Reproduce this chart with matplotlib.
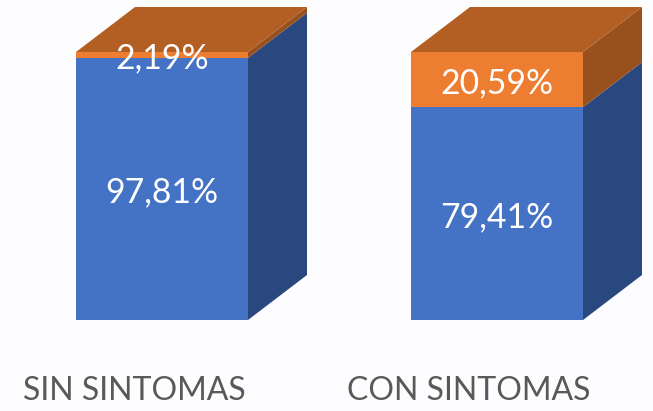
import matplotlib
matplotlib.use("Agg")
import matplotlib.pyplot as plt
from matplotlib.patches import Polygon

categories = ["SIN SINTOMAS", "CON SINTOMAS"]
blue_values = [97.81, 79.41]
orange_values = [2.19, 20.59]
blue_labels = ["97,81%", "79,41%"]
orange_labels = ["2,19%", "20,59%"]

BG = "#FDFDFF"
C = {"blue": ("#4472C4", "#2A4880"), "orange": ("#ED7D31", "#98501D")}
TOP = "#B35E22"
W, H = 653, 411
PX_X = 335.0
PX_Y = 2.68
X0, Y0 = 162.0, 320.0
BAR_W = 172 / PX_X
DX = 59 / PX_X
DY = 45 / PX_Y
TXT_SHIFT = 3.5 / PX_Y

plt.rcParams["font.family"] = ["Lato", "DejaVu Sans"]
fig = plt.figure(figsize=(W / 100, H / 100), dpi=100, facecolor=BG)
ax = fig.add_axes([0, 0, 1, 1])
ax.set_xlim(-X0 / PX_X, (W - X0) / PX_X)
ax.set_ylim((Y0 - H) / PX_Y, Y0 / PX_Y)
ax.axis("off")


def side(x, y0, y1, color):
    r = x + BAR_W / 2
    ax.add_patch(Polygon([(r, y0), (r + DX, y0 + DY), (r + DX, y1 + DY), (r, y1)],
                         closed=True, fc=color, ec="none", zorder=2))


for i, (b, o) in enumerate(zip(blue_values, orange_values)):
    ax.bar(i, b, width=BAR_W, color=C["blue"][0], zorder=3)
    ax.bar(i, o, bottom=b, width=BAR_W, color=C["orange"][0], zorder=3)
    side(i, 0, b, C["blue"][1])
    side(i, b, b + o, C["orange"][1])
    t = b + o
    l, r = i - BAR_W / 2, i + BAR_W / 2
    ax.add_patch(Polygon([(l, t), (r, t), (r + DX, t + DY), (l + DX, t + DY)],
                         closed=True, fc=TOP, ec="none", zorder=2))
    ax.text(i, b / 2 - TXT_SHIFT, blue_labels[i], color="white", fontsize=24.3,
            ha="center", va="center", zorder=5)
    ax.text(i, b + o / 2 - TXT_SHIFT, orange_labels[i], color="white", fontsize=24.3,
            ha="center", va="center", zorder=5)
    ax.text(i - 0.083, (Y0 - 391) / PX_Y, categories[i], color="#595959",
            fontsize=23, ha="center", va="center", zorder=5)

fig.savefig("out.png", dpi=100, facecolor=BG)
